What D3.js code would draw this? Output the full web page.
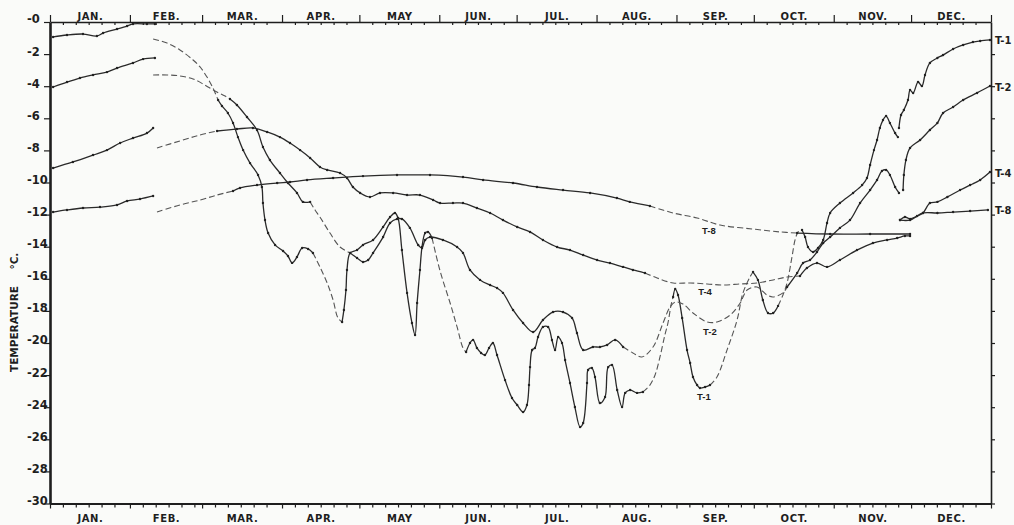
<!DOCTYPE html>
<html>
<head>
<meta charset="utf-8">
<script src="https://cdn.jsdelivr.net/npm/d3@7"></script>
<style>
  html, body { margin: 0; padding: 0; background: #fafbf9; }
  svg { display: block; }
</style>
</head>
<body>
<svg id="chart" width="1014" height="525"></svg>
<script>
// Axis categories / tick labels
const months = ['JAN.', 'FEB.', 'MAR.', 'APR.', 'MAY', 'JUN.', 'JUL.', 'AUG.', 'SEP.', 'OCT.', 'NOV.', 'DEC.'];
const monthLengths = [31, 28, 31, 30, 31, 30, 31, 31, 30, 31, 30, 31];
const tempTicks = [0, -2, -4, -6, -8, -10, -12, -14, -16, -18, -20, -22, -24, -26, -28, -30];
const seriesNames = ['T-1', 'T-2', 'T-4', 'T-8'];

// Values are [day of year, temperature °C].
// Measured = recorded stretches (solid), interpolated = dashed stretches.
const t1Measured = [
  [[1.2, -0.93], [6.6, -0.81], [12.8, -0.75], [18.2, -0.87], [20.6, -0.69], [26.0, -0.44], [29.9, -0.25], [32.2, -0.12], [37.6, -0.12], [40.7, -0.12]],
  [[65.2, -4.86], [66.7, -5.23], [69.0, -5.67], [71.0, -6.29], [72.9, -7.17], [74.9, -7.98], [77.6, -8.79], [80.7, -9.53], [82.2, -10.28], [82.6, -11.28], [83.4, -12.34], [84.6, -13.15], [87.3, -13.89], [90.4, -14.27], [92.3, -14.58], [93.9, -15.01], [95.8, -14.64], [97.8, -14.08], [100.1, -14.14], [102.0, -14.39]],
  [[113.3, -18.69], [114.0, -17.94], [114.8, -16.70], [115.2, -15.45], [116.4, -14.39], [119.1, -14.21], [121.4, -13.89], [125.3, -13.58], [129.2, -12.77], [131.9, -12.15], [133.8, -11.90], [135.0, -12.21], [136.5, -14.21], [138.5, -16.88], [140.4, -18.75], [141.6, -19.50], [142.4, -17.51], [143.5, -15.45], [144.3, -14.02], [145.5, -13.15], [146.6, -13.08], [148.2, -13.46]],
  [[161.4, -20.56], [162.9, -20.0], [164.1, -19.81], [165.6, -20.31], [167.2, -20.62], [168.7, -20.75], [170.3, -20.31], [171.8, -20.0], [173.4, -20.75], [176.5, -22.31], [179.2, -23.43], [181.2, -23.86], [183.5, -24.30], [185.0, -23.86], [185.8, -22.62], [186.2, -21.50], [187.0, -20.44], [188.1, -20.31], [189.3, -19.63], [191.2, -19.0], [193.2, -19.0], [194.7, -19.81], [195.9, -20.44], [197.1, -19.63], [198.6, -20.0], [199.8, -21.06], [201.7, -22.49], [203.6, -23.99], [205.6, -25.23], [206.8, -24.98], [208.3, -22.49], [208.7, -21.68], [210.2, -21.56], [211.4, -22.12], [213.3, -23.74], [215.3, -23.36], [216.5, -21.50], [218.0, -21.37], [220.0, -22.93], [221.9, -23.99], [223.1, -23.11], [225.0, -22.93], [227.7, -23.11], [230.0, -23.05]],
  [[241.7, -17.13], [242.5, -16.64], [243.6, -17.01], [245.2, -18.44], [247.1, -20.44], [248.3, -21.25], [249.4, -22.12], [251.0, -22.62], [252.1, -22.80], [254.1, -22.74], [256.0, -22.62]],
  [[272.7, -15.58], [274.6, -16.07], [276.5, -17.32], [278.5, -18.13], [280.5, -18.13], [282.4, -17.69]],
  [[291.7, -12.96], [292.9, -13.40], [294.0, -14.02], [296.0, -14.33], [297.9, -14.08], [299.9, -13.58], [301.4, -12.52], [302.6, -11.90], [306.4, -11.28], [311.5, -10.65], [315.0, -10.16], [316.9, -9.72], [318.1, -8.91], [319.6, -7.98], [320.8, -7.35], [321.9, -6.60], [323.1, -6.11], [324.3, -5.86], [325.8, -6.29], [327.8, -6.92], [328.9, -7.17]],
  [[329.3, -6.60], [330.1, -5.79], [331.2, -5.48], [332.8, -4.86], [333.6, -4.24], [334.8, -4.42], [336.7, -3.74], [338.2, -3.99], [339.4, -3.30], [341.3, -2.55], [344.2, -2.24], [346.4, -2.06], [350.3, -1.68], [354.2, -1.43], [358.0, -1.25], [360.8, -1.18], [364.6, -1.12]]
];
const t1Interpolated = [
  [[40.0, -1.06], [45.4, -1.31], [50.4, -1.74], [55.5, -2.37], [58.2, -2.80], [60.9, -3.43], [63.2, -4.11], [65.2, -4.86]],
  [[102.0, -14.39], [104.7, -15.26], [107.5, -16.26], [109.8, -17.32], [111.7, -18.44], [113.3, -18.69]],
  [[148.2, -13.46], [151.3, -15.51], [155.2, -17.51], [157.9, -19.0], [160.2, -20.31], [161.4, -20.56]],
  [[230.0, -23.05], [232.7, -22.62], [234.7, -21.99], [236.6, -20.87], [238.5, -19.50], [239.7, -18.75], [240.9, -17.63], [241.7, -17.13]],
  [[256.0, -22.62], [258.7, -22.12], [262.6, -20.44], [266.5, -18.57], [268.8, -16.88], [271.5, -15.89], [272.7, -15.58]],
  [[282.4, -17.69], [284.3, -17.01], [285.9, -16.26], [287.8, -14.64], [289.0, -13.58], [290.2, -13.08], [291.7, -12.96]]
];

const t2Measured = [
  [[1.2, -4.05], [6.6, -3.74], [11.6, -3.49], [16.7, -3.30], [22.1, -3.12], [26.0, -2.87], [32.2, -2.55], [36.1, -2.31], [40.7, -2.24]],
  [[69.8, -4.80], [72.5, -5.17], [76.4, -5.92], [80.3, -6.73], [82.6, -7.79], [85.3, -8.60], [89.2, -9.41], [92.3, -10.03], [95.8, -10.65], [98.1, -11.21], [100.9, -11.21]],
  [[116.4, -14.39], [119.1, -14.70], [121.4, -14.95], [123.4, -14.83], [125.3, -14.39], [129.2, -13.40], [131.9, -12.52], [134.6, -12.27], [136.5, -12.27], [139.6, -12.83], [142.8, -13.89], [144.3, -14.08], [145.5, -13.58], [147.4, -13.40], [152.4, -13.58], [157.9, -14.02], [160.2, -14.39], [162.9, -15.45], [166.8, -16.07], [170.7, -16.39], [173.4, -16.57], [175.7, -16.88], [179.6, -17.94], [183.5, -18.75], [187.4, -19.31], [191.2, -18.57], [195.1, -18.07], [199.0, -18.07], [202.5, -18.44], [204.4, -19.38], [206.8, -20.44], [210.6, -20.25], [213.3, -20.25], [216.1, -20.12], [219.2, -19.81], [222.3, -20.25]],
  [[285.9, -16.51], [289.8, -15.64], [292.1, -15.02], [294.8, -14.83], [297.5, -14.33], [299.9, -13.77], [302.6, -13.40], [306.4, -12.83], [310.3, -12.34], [314.2, -11.28], [318.1, -10.47], [320.8, -9.84], [322.7, -9.28], [324.3, -9.22], [325.8, -9.53], [327.8, -10.28], [329.3, -10.65]],
  [[330.9, -10.47], [331.2, -9.53], [332.0, -8.60], [333.6, -7.85], [337.5, -7.35], [341.3, -6.73], [344.2, -6.29], [346.4, -5.67], [350.3, -5.30], [354.2, -4.86], [359.6, -4.42], [364.6, -3.99]]
];
const t2Interpolated = [
  [[40.0, -3.30], [45.4, -3.30], [50.4, -3.36], [55.5, -3.55], [60.1, -3.93], [64.0, -4.30], [67.9, -4.61], [69.8, -4.80]],
  [[100.9, -11.21], [102.8, -11.71], [104.7, -12.15], [108.6, -13.15], [112.5, -14.02], [116.4, -14.39]],
  [[222.3, -20.25], [226.1, -20.62], [229.6, -20.87], [233.9, -20.25], [237.8, -18.75], [240.5, -17.76], [242.5, -17.45], [245.5, -17.57], [249.4, -18.13], [254.9, -18.69], [258.7, -18.69], [263.8, -18.26], [267.7, -17.51], [270.4, -16.70], [274.2, -16.51], [278.1, -17.01], [280.5, -17.13], [284.3, -16.88], [285.9, -16.51]]
];

const t4Measured = [
  [[1.2, -9.10], [8.9, -8.72], [16.7, -8.29], [22.1, -7.98], [27.2, -7.54], [32.2, -7.23], [37.6, -6.92], [40.0, -6.60]],
  [[64.8, -6.79], [72.5, -6.67], [78.7, -6.60], [84.2, -6.85], [89.2, -7.17], [93.1, -7.54], [97.0, -7.98], [100.9, -8.47], [104.7, -9.03], [107.5, -9.22], [112.5, -9.41], [115.2, -9.72], [117.5, -10.28], [120.3, -10.65], [124.1, -10.90], [128.0, -10.65], [133.1, -10.65], [138.5, -10.78], [143.5, -10.78], [148.6, -11.09], [151.3, -11.28], [156.3, -11.28], [160.2, -11.28], [165.6, -11.59], [170.7, -11.90], [175.7, -12.34], [181.2, -12.77], [186.2, -13.08], [191.2, -13.58], [196.7, -14.02], [201.7, -14.21], [206.8, -14.52], [212.2, -14.83], [217.2, -15.02], [222.3, -15.26], [226.1, -15.45], [230.8, -15.64]],
  [[290.9, -15.83], [293.6, -15.33], [297.5, -15.02], [301.4, -15.26], [306.4, -14.83], [313.0, -14.21], [319.2, -13.77], [324.7, -13.58], [328.6, -13.46], [331.6, -13.33], [333.6, -13.33]],
  [[329.7, -12.34], [331.6, -12.15], [333.6, -12.27], [336.3, -12.09], [338.6, -11.90], [341.3, -11.28], [344.2, -11.21], [348.1, -10.90], [353.0, -10.47], [356.9, -10.16], [360.8, -9.84], [364.6, -9.35]]
];
const t4Interpolated = [
  [[41.5, -7.85], [50.4, -7.41], [58.2, -7.04], [64.8, -6.79]],
  [[230.8, -15.64], [235.5, -15.95], [241.7, -16.26], [248.3, -16.26], [254.9, -16.32], [261.1, -16.39], [267.7, -16.32], [274.2, -16.26], [280.5, -16.07], [285.9, -15.89], [290.9, -15.83]]
];

const t8Measured = [
  [[1.2, -11.84], [6.6, -11.71], [12.8, -11.59], [19.4, -11.53], [26.0, -11.40], [29.9, -11.15], [34.9, -11.03], [40.0, -10.84]],
  [[71.0, -10.53], [73.7, -10.34], [80.3, -10.16], [88.1, -10.03], [93.1, -9.97], [99.7, -9.84], [109.8, -9.72], [121.4, -9.60], [134.6, -9.53], [147.4, -9.53], [160.2, -9.66], [168.0, -9.84], [179.6, -10.03], [188.9, -10.28], [199.0, -10.47], [209.5, -10.65], [219.9, -10.97], [224.9, -11.21], [232.7, -11.46]],
  [[289.8, -13.15], [302.6, -13.21], [318.1, -13.21], [333.6, -13.21]],
  [[329.7, -12.34], [333.6, -12.34], [338.6, -11.90], [344.2, -11.90], [350.3, -11.84], [356.9, -11.78], [363.8, -11.71]]
];
const t8Interpolated = [
  [[41.5, -11.84], [50.4, -11.40], [58.2, -11.09], [64.8, -10.78], [71.0, -10.53]],
  [[232.7, -11.46], [241.7, -11.90], [251.0, -12.21], [259.9, -12.65], [272.7, -12.90], [283.2, -13.08], [289.8, -13.15]]
];

// where the in-plot series names sit [day, temperature]
const inlineLabelAt = [[251.0, -23.55], [253.3, -19.5], [251.4, -17.01], [252.9, -13.21]];

const measuredSets = [t1Measured, t2Measured, t4Measured, t8Measured];
const interpolatedSets = [t1Interpolated, t2Interpolated, t4Interpolated, t8Interpolated];

const series = seriesNames.map((name, i) => ({
  name,
  measured: measuredSets[i],
  interpolated: interpolatedSets[i],
  labelAt: inlineLabelAt[i]
}));

const W = 1014;
const H = 525;
const INK = '#1e1e1e';
const AXIS_FONT = '"DejaVu Sans", sans-serif';

const x = d3.scaleLinear().domain([0, 365]).range([50, 991]);
const y = d3.scaleLinear().domain([0, -30]).range([22, 503.5]);

const svg = d3.select('#chart');
svg.append('rect').attr('width', W).attr('height', H).attr('fill', '#fafbf9');

const monthStarts = Array.from(d3.cumsum([0, ...monthLengths]));
const monthMids = monthLengths.map((len, i) => monthStarts[i] + len / 2);
const minorDays = monthLengths.flatMap((len, i) => [5, 10, 15, 20, 25].map((k) => monthStarts[i] + k));

function styleAxis(g, width) {
  g.select('.domain').attr('stroke', INK).attr('stroke-width', width);
  g.selectAll('.tick line').attr('stroke', INK).attr('stroke-width', 1.2);
  g.selectAll('.tick text')
    .attr('fill', INK)
    .style('font-family', AXIS_FONT)
    .style('font-weight', 'bold');
}

// ---- top axis
const topY = y(0);
svg.append('g')
  .attr('transform', `translate(0,${topY})`)
  .call(d3.axisTop(x).tickValues(monthStarts).tickSize(7).tickSizeOuter(0).tickFormat(''))
  .call(styleAxis, 1.6);
svg.append('g')
  .attr('transform', `translate(0,${topY})`)
  .call(d3.axisTop(x).tickValues(minorDays).tickSize(-3).tickFormat(''))
  .call((g) => g.select('.domain').remove())
  .call(styleAxis, 1);
svg.append('g')
  .attr('transform', `translate(0,${topY})`)
  .call(d3.axisTop(x).tickValues(monthMids).tickSize(0).tickPadding(2).tickFormat((d, i) => months[i]))
  .call((g) => g.select('.domain').remove())
  .call(styleAxis, 1)
  .call((g) => g.selectAll('text').style('font-size', '10px').style('letter-spacing', '0.6px'));

// ---- bottom axis
const botY = y(-30);
svg.append('g')
  .attr('transform', `translate(0,${botY})`)
  .call(d3.axisBottom(x).tickValues(monthStarts).tickSize(5).tickSizeOuter(0).tickFormat(''))
  .call(styleAxis, 2.2);
svg.append('g')
  .attr('transform', `translate(0,${botY})`)
  .call(d3.axisBottom(x).tickValues(minorDays).tickSize(4).tickFormat(''))
  .call((g) => g.select('.domain').remove())
  .call(styleAxis, 1);
svg.append('g')
  .attr('transform', `translate(0,${botY})`)
  .call(d3.axisBottom(x).tickValues(monthMids).tickSize(0).tickPadding(11).tickFormat((d, i) => months[i]))
  .call((g) => g.select('.domain').remove())
  .call(styleAxis, 1)
  .call((g) => g.selectAll('text').style('font-size', '10px').style('letter-spacing', '0.6px'));

// ---- left axis (labels sit on their tick, left aligned)
svg.append('g')
  .attr('transform', `translate(${x(0)},0)`)
  .call(d3.axisLeft(y).tickValues(tempTicks).tickSize(6).tickSizeOuter(0).tickFormat((d) => '-' + Math.abs(d)))
  .call(styleAxis, 2.6)
  .call((g) =>
    g.selectAll('.tick text')
      .attr('text-anchor', 'start')
      .attr('x', -23)
      .attr('dy', '0.08em')
      .style('font-size', '11.5px')
  );

// ---- right axis
svg.append('g')
  .attr('transform', `translate(${x(365)},0)`)
  .call(d3.axisRight(y).tickValues(tempTicks.filter((d) => d < 0)).tickSize(4).tickSizeOuter(0).tickFormat(''))
  .call(styleAxis, 1.6);

// ---- y title: "TEMPERATURE" and "°C." are set apart on the rotated line
function yTitle(txt, atTemp) {
  svg.append('text')
    .attr('transform', `translate(18,${y(atTemp)}) rotate(-90)`)
    .attr('text-anchor', 'middle')
    .attr('fill', INK)
    .style('font-family', AXIS_FONT)
    .style('font-weight', 'bold')
    .style('font-size', '10.5px')
    .text(txt);
}
yTitle('TEMPERATURE', -19.13);
yTitle('°C.', -14.9);

// ---- curves
const line = d3.line()
  .x((d) => x(d[0]))
  .y((d) => y(d[1]))
  .curve(d3.curveCatmullRom.alpha(0.5));

const plot = svg.append('g').attr('class', 'curves');

series.forEach((s) => {
  const g = plot.append('g').attr('class', `series series-${s.name}`);

  g.selectAll('path.interp')
    .data(s.interpolated)
    .join('path')
    .attr('class', 'interp')
    .attr('d', line)
    .attr('fill', 'none')
    .attr('stroke', '#555')
    .attr('stroke-width', 1.1)
    .attr('stroke-dasharray', '6,3');

  g.selectAll('path.meas')
    .data(s.measured)
    .join('path')
    .attr('class', 'meas')
    .attr('d', line)
    .attr('fill', 'none')
    .attr('stroke', '#2a2a2a')
    .attr('stroke-width', 1.3);

  // recorded readings as small dots along the solid stretches
  g.selectAll('circle')
    .data(s.measured.flat())
    .join('circle')
    .attr('cx', (d) => x(d[0]))
    .attr('cy', (d) => y(d[1]))
    .attr('r', 1.2)
    .attr('fill', '#222');

  // inline name
  g.append('text')
    .attr('x', x(s.labelAt[0]))
    .attr('y', y(s.labelAt[1]))
    .attr('fill', INK)
    .style('font-family', '"Liberation Sans", sans-serif')
    .style('font-weight', 'bold')
    .style('font-size', '9.5px')
    .text(s.name);

  // name at the right edge, level with the last reading
  const lastSeg = s.measured[s.measured.length - 1];
  const last = lastSeg[lastSeg.length - 1];
  g.append('text')
    .attr('x', x(365) + 4)
    .attr('y', y(last[1]) + 4.5)
    .attr('fill', INK)
    .style('font-family', AXIS_FONT)
    .style('font-weight', 'bold')
    .style('font-size', '10px')
    .text(s.name);
});
</script>
</body>
</html>
